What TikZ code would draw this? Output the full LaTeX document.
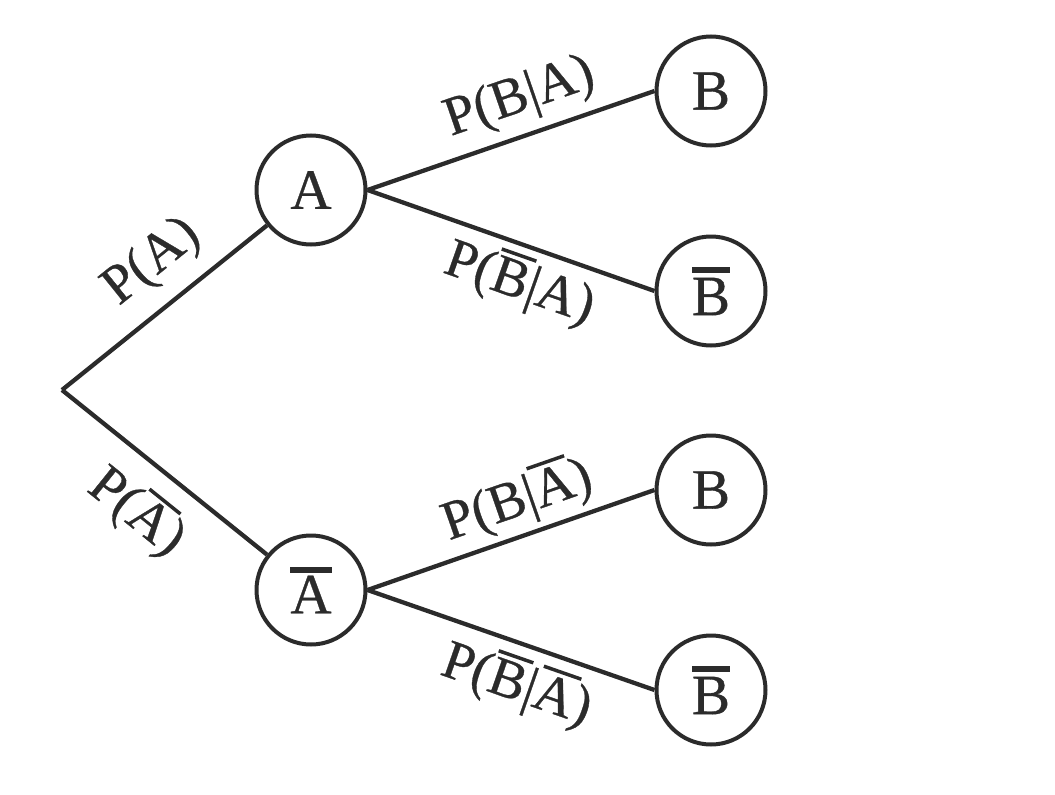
\documentclass[tikz,border=0pt]{standalone}
\usepackage{fontspec}
\setmainfont{Liberation Serif}
\newfontface\heavy[FakeBold=0.6]{Liberation Serif}
\definecolor{ink}{HTML}{2B2B2B}
\newcommand\ovr[3]{\leavevmode\vbox{\hrule height #2\kern #3\hbox{#1}}}
\begin{document}
\begin{tikzpicture}[x=1pt,y=-1pt,
  state/.style={circle,draw=ink,line width=4pt,minimum size=109pt,inner sep=0pt,
    font=\heavy\fontsize{57}{60}\selectfont,text=ink},
  branch/.style={draw=ink,line width=4.3pt},
  lbl/.style={sloped,font=\heavy\fontsize{55}{58}\selectfont,text=ink,inner sep=0pt}]
\useasboundingbox (0,0) rectangle (1055,795);
\coordinate (root) at (62,390);
\node[state] (A) at (311,190) {A};
\node[state] (Ab) at (311,590) {\ovr{A}{6pt}{3pt}};
\node[state] (B1) at (711,91) {B};
\node[state] (B2) at (711,291) {\ovr{B}{6pt}{5pt}};
\node[state] (B3) at (711,490) {B};
\node[state] (B4) at (711,690) {\ovr{B}{6pt}{5pt}};
\draw[branch] (root) -- node[lbl,pos=0.572,yshift=43pt] {P(A)} (A);
\draw[branch] (root) -- node[lbl,pos=0.513,yshift=-48pt] {P(\ovr{A}{3.5pt}{3pt})} (Ab);
\draw[branch] (A.east) -- node[lbl,pos=0.573,yshift=37pt] {P(B|A)} (B1.west);
\draw[branch] (A.east) -- node[lbl,pos=0.574,yshift=-37pt] {P(\ovr{B}{3.5pt}{4pt}|A)} (B2.west);
\draw[branch] (Ab.east) -- node[lbl,pos=0.562,yshift=36pt] {P(B|\ovr{A}{3.5pt}{4pt})} (B3.west);
\draw[branch] (Ab.east) -- node[lbl,pos=0.567,yshift=-40pt] {P(\ovr{B}{3.5pt}{4pt}|\ovr{A}{3.5pt}{4pt})} (B4.west);
\end{tikzpicture}
\end{document}
